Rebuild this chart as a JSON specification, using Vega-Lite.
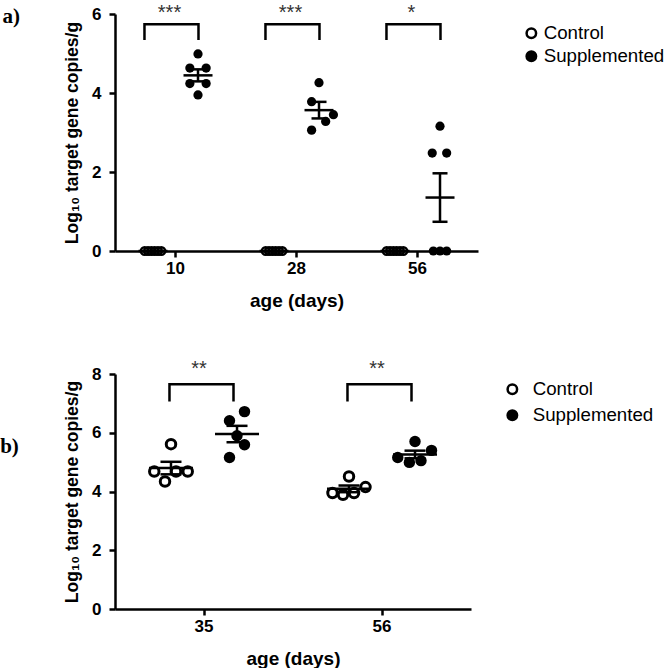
{
  "$schema": "https://vega.github.io/schema/vega-lite/v6.json",
  "padding": {"left": 0, "top": 2, "right": 0, "bottom": 0},
  "config": {
    "font": "Liberation Sans",
    "view": {"stroke": null},
    "concat": {"spacing": 49},
    "axis": {"domainColor": "black", "domainWidth": 2.5, "tickColor": "black", "tickWidth": 2.5, "tickSize": 6, "labelColor": "black", "labelFont": "Liberation Sans", "labelFontWeight": "bold", "labelFontSize": 17, "titleColor": "black", "titleFont": "Liberation Sans", "titleFontWeight": "bold", "grid": false}
  },
  "datasets": {
    "topPts": [
      {"age": "10", "group": "Control", "value": 0, "jitter": -1.125},
      {"age": "10", "group": "Control", "value": 0, "jitter": -0.675},
      {"age": "10", "group": "Control", "value": 0, "jitter": -0.225},
      {"age": "10", "group": "Control", "value": 0, "jitter": 0.225},
      {"age": "10", "group": "Control", "value": 0, "jitter": 0.675},
      {"age": "10", "group": "Control", "value": 0, "jitter": 1.125},
      {"age": "28", "group": "Control", "value": 0, "jitter": -1.125},
      {"age": "28", "group": "Control", "value": 0, "jitter": -0.675},
      {"age": "28", "group": "Control", "value": 0, "jitter": -0.225},
      {"age": "28", "group": "Control", "value": 0, "jitter": 0.225},
      {"age": "28", "group": "Control", "value": 0, "jitter": 0.675},
      {"age": "28", "group": "Control", "value": 0, "jitter": 1.125},
      {"age": "56", "group": "Control", "value": 0, "jitter": -1.125},
      {"age": "56", "group": "Control", "value": 0, "jitter": -0.675},
      {"age": "56", "group": "Control", "value": 0, "jitter": -0.225},
      {"age": "56", "group": "Control", "value": 0, "jitter": 0.225},
      {"age": "56", "group": "Control", "value": 0, "jitter": 0.675},
      {"age": "56", "group": "Control", "value": 0, "jitter": 1.125},
      {"age": "10", "group": "Supplemented", "value": 4.99, "jitter": 0},
      {"age": "10", "group": "Supplemented", "value": 4.63, "jitter": -1.1},
      {"age": "10", "group": "Supplemented", "value": 4.63, "jitter": 1.1},
      {"age": "10", "group": "Supplemented", "value": 4.24, "jitter": -1.1},
      {"age": "10", "group": "Supplemented", "value": 4.24, "jitter": 1.1},
      {"age": "10", "group": "Supplemented", "value": 3.95, "jitter": 0},
      {"age": "28", "group": "Supplemented", "value": 4.26, "jitter": 0},
      {"age": "28", "group": "Supplemented", "value": 3.78, "jitter": -1},
      {"age": "28", "group": "Supplemented", "value": 3.45, "jitter": 1.95},
      {"age": "28", "group": "Supplemented", "value": 3.28, "jitter": 0.9},
      {"age": "28", "group": "Supplemented", "value": 3.06, "jitter": -1},
      {"age": "56", "group": "Supplemented", "value": 3.16, "jitter": 0},
      {"age": "56", "group": "Supplemented", "value": 2.48, "jitter": -1.05},
      {"age": "56", "group": "Supplemented", "value": 2.48, "jitter": 0.9},
      {"age": "56", "group": "Supplemented", "value": 0, "jitter": -0.9},
      {"age": "56", "group": "Supplemented", "value": 0, "jitter": 0},
      {"age": "56", "group": "Supplemented", "value": 0, "jitter": 0.9}
    ],
    "topBr": [
      {"age": "10", "group": "Control", "value": 5.34, "ord": 1},
      {"age": "10", "group": "Control", "value": 5.74, "ord": 2},
      {"age": "10", "group": "Supplemented", "value": 5.74, "ord": 3},
      {"age": "10", "group": "Supplemented", "value": 5.34, "ord": 4},
      {"age": "28", "group": "Control", "value": 5.34, "ord": 1},
      {"age": "28", "group": "Control", "value": 5.74, "ord": 2},
      {"age": "28", "group": "Supplemented", "value": 5.74, "ord": 3},
      {"age": "28", "group": "Supplemented", "value": 5.34, "ord": 4},
      {"age": "56", "group": "Control", "value": 5.34, "ord": 1},
      {"age": "56", "group": "Control", "value": 5.74, "ord": 2},
      {"age": "56", "group": "Supplemented", "value": 5.74, "ord": 3},
      {"age": "56", "group": "Supplemented", "value": 5.34, "ord": 4}
    ],
    "topStars": [
      {"age": "10", "label": "***", "value": 6.03},
      {"age": "28", "label": "***", "value": 6.03},
      {"age": "56", "label": "*", "value": 6.03}
    ],
    "botPts": [
      {"age": "35", "group": "Control", "value": 5.61, "jitter": 0},
      {"age": "35", "group": "Control", "value": 4.68, "jitter": -2.23},
      {"age": "35", "group": "Control", "value": 4.34, "jitter": -0.8},
      {"age": "35", "group": "Control", "value": 4.68, "jitter": 0.67},
      {"age": "35", "group": "Control", "value": 4.68, "jitter": 2.23},
      {"age": "56", "group": "Control", "value": 4.51, "jitter": 0},
      {"age": "56", "group": "Control", "value": 3.95, "jitter": -2.2},
      {"age": "56", "group": "Control", "value": 3.89, "jitter": -0.8},
      {"age": "56", "group": "Control", "value": 3.95, "jitter": 0.67},
      {"age": "56", "group": "Control", "value": 4.15, "jitter": 2.2},
      {"age": "35", "group": "Supplemented", "value": 6.41, "jitter": -1},
      {"age": "35", "group": "Supplemented", "value": 6.72, "jitter": 1},
      {"age": "35", "group": "Supplemented", "value": 5.9, "jitter": 0},
      {"age": "35", "group": "Supplemented", "value": 5.59, "jitter": 1},
      {"age": "35", "group": "Supplemented", "value": 5.16, "jitter": -1},
      {"age": "56", "group": "Supplemented", "value": 5.7, "jitter": 0},
      {"age": "56", "group": "Supplemented", "value": 5.4, "jitter": 2.2},
      {"age": "56", "group": "Supplemented", "value": 5.16, "jitter": -2.3},
      {"age": "56", "group": "Supplemented", "value": 4.99, "jitter": -0.75},
      {"age": "56", "group": "Supplemented", "value": 5.05, "jitter": 0.8}
    ],
    "botBr": [
      {"age": "35", "group": "Control", "value": 7.06, "ord": 1},
      {"age": "35", "group": "Control", "value": 7.65, "ord": 2},
      {"age": "35", "group": "Supplemented", "value": 7.65, "ord": 3},
      {"age": "35", "group": "Supplemented", "value": 7.06, "ord": 4},
      {"age": "56", "group": "Control", "value": 7.06, "ord": 1},
      {"age": "56", "group": "Control", "value": 7.65, "ord": 2},
      {"age": "56", "group": "Supplemented", "value": 7.65, "ord": 3},
      {"age": "56", "group": "Supplemented", "value": 7.06, "ord": 4}
    ],
    "botStars": [
      {"age": "35", "label": "**", "value": 8.17},
      {"age": "56", "label": "**", "value": 8.17}
    ]
  },
  "vconcat": [
    {
      "width": 363,
      "height": 237,
      "title": {"text": "a)", "orient": "left", "anchor": "end", "angle": 0, "align": "right", "baseline": "top", "font": "Liberation Serif", "fontWeight": "bold", "fontSize": 21, "offset": 26, "dy": 3, "color": "black"},
      "data": {"name": "topPts"},
      "encoding": {
        "x": {"field": "age", "type": "nominal", "scale": {"domain": ["10", "28", "56"], "paddingInner": 0, "paddingOuter": 0}, "axis": {"title": "age (days)", "labelAngle": 0, "labelPadding": 3, "titleFontSize": 19, "titlePadding": 15}}
      },
      "layer": [
        {
          "transform": [{"filter": "datum.group === 'Control'"}],
          "mark": {"type": "point", "shape": "circle", "filled": true, "size": 60, "stroke": "black", "strokeWidth": 2.5, "opacity": 1, "clip": false},
          "encoding": {
            "y": {"field": "value", "type": "quantitative", "scale": {"domain": [0, 6], "nice": false}, "axis": {"values": [0, 2, 4, 6], "labelPadding": 8, "titleFontSize": 17.5, "titlePadding": 10}, "title": "Log₁₀ target gene copies/g"},
            "xOffset": {"field": "jitter", "type": "quantitative", "scale": {"domain": [-5.135, 11.216], "nice": false, "zero": false}},
            "fill": {"field": "group", "type": "nominal", "scale": {"domain": ["Control", "Supplemented"], "range": ["transparent", "black"]}, "legend": {"title": null, "orient": "right", "offset": 34, "padding": 10, "labelFontSize": 18.7, "labelColor": "black", "symbolSize": 90, "symbolStrokeColor": "black", "symbolStrokeWidth": 2.5, "symbolType": "circle", "labelOffset": 3, "rowPadding": 2}}
          }
        },
        {
          "transform": [{"filter": "datum.group === 'Supplemented'"}],
          "mark": {"type": "point", "shape": "circle", "filled": true, "size": 85, "strokeWidth": 0, "opacity": 1, "clip": false},
          "encoding": {
            "y": {"field": "value", "type": "quantitative", "scale": {"domain": [0, 6], "nice": false}, "title": "Log₁₀ target gene copies/g"},
            "xOffset": {"field": "jitter", "type": "quantitative", "scale": {"domain": [-11.216, 5.135], "nice": false, "zero": false}},
            "fill": {"field": "group", "type": "nominal", "scale": {"domain": ["Control", "Supplemented"], "range": ["transparent", "black"]}, "legend": {"title": null, "orient": "right", "offset": 34, "padding": 10, "labelFontSize": 18.7, "labelColor": "black", "symbolSize": 90, "symbolStrokeColor": "black", "symbolStrokeWidth": 2.5, "symbolType": "circle", "labelOffset": 3, "rowPadding": 2}}
          }
        },
        {
          "transform": [
            {"aggregate": [{"op": "mean", "field": "value", "as": "mean"}, {"op": "stderr", "field": "value", "as": "se"}], "groupby": ["age", "group"]},
            {"calculate": "datum.mean - datum.se", "as": "lo"},
            {"calculate": "datum.mean + datum.se", "as": "hi"}
          ],
          "encoding": {
            "xOffset": {"field": "group", "type": "nominal", "scale": {"domain": ["Control", "Supplemented"], "paddingInner": 0, "paddingOuter": 0.344}}
          },
          "layer": [
            {"mark": {"type": "rule", "strokeWidth": 2.5, "color": "black"}, "encoding": {"y": {"field": "lo", "type": "quantitative", "scale": {"domain": [0, 6], "nice": false}, "title": "Log₁₀ target gene copies/g"}, "y2": {"field": "hi"}}},
            {"mark": {"type": "tick", "size": 29, "thickness": 2.5, "color": "black", "opacity": 1}, "encoding": {"y": {"field": "mean", "type": "quantitative", "scale": {"domain": [0, 6], "nice": false}, "title": "Log₁₀ target gene copies/g"}}},
            {"mark": {"type": "tick", "size": 15, "thickness": 2.5, "color": "black", "opacity": 1}, "encoding": {"y": {"field": "lo", "type": "quantitative", "scale": {"domain": [0, 6], "nice": false}, "title": "Log₁₀ target gene copies/g"}}},
            {"mark": {"type": "tick", "size": 15, "thickness": 2.5, "color": "black", "opacity": 1}, "encoding": {"y": {"field": "hi", "type": "quantitative", "scale": {"domain": [0, 6], "nice": false}, "title": "Log₁₀ target gene copies/g"}}}
          ]
        },
        {
          "data": {"name": "topBr"},
          "mark": {"type": "line", "color": "black", "strokeWidth": 2.5, "clip": false},
          "encoding": {
            "xOffset": {"field": "group", "type": "nominal", "scale": {"type": "point", "domain": ["Control", "Supplemented"], "padding": 0.62, "align": 0.44}},
            "y": {"field": "value", "type": "quantitative", "scale": {"domain": [0, 6], "nice": false}, "title": "Log₁₀ target gene copies/g"},
            "detail": {"field": "age"},
            "order": {"field": "ord", "type": "quantitative"}
          }
        },
        {
          "data": {"name": "topStars"},
          "mark": {"type": "text", "fontSize": 20, "color": "#333333", "baseline": "middle", "dx": -6},
          "encoding": {
            "y": {"field": "value", "type": "quantitative", "scale": {"domain": [0, 6], "nice": false}, "title": "Log₁₀ target gene copies/g"},
            "text": {"field": "label"}
          }
        }
      ],
      "resolve": {"scale": {"xOffset": "independent"}}
    },
    {
      "width": 356,
      "height": 235,
      "title": {"text": "b)", "orient": "left", "anchor": "end", "angle": 0, "align": "right", "baseline": "top", "font": "Liberation Serif", "fontWeight": "bold", "fontSize": 21, "offset": 26, "dy": 77, "color": "black"},
      "data": {"name": "botPts"},
      "encoding": {
        "x": {"field": "age", "type": "nominal", "scale": {"domain": ["35", "56"], "paddingInner": 0, "paddingOuter": 0}, "axis": {"title": "age (days)", "labelAngle": 0, "labelPadding": 3, "titleFontSize": 19, "titlePadding": 15}}
      },
      "layer": [
        {
          "transform": [{"filter": "datum.group === 'Control'"}],
          "mark": {"type": "point", "shape": "circle", "filled": true, "size": 90, "stroke": "black", "strokeWidth": 3, "opacity": 1, "clip": false},
          "encoding": {
            "y": {"field": "value", "type": "quantitative", "scale": {"domain": [0, 8], "nice": false}, "axis": {"values": [0, 2, 4, 6, 8], "labelPadding": 8, "titleFontSize": 17.5, "titlePadding": 10}, "title": "Log₁₀ target gene copies/g"},
            "xOffset": {"field": "jitter", "type": "quantitative", "scale": {"domain": [-7.467, 16.267], "nice": false, "zero": false}},
            "fill": {"field": "group", "type": "nominal", "scale": {"domain": ["Control", "Supplemented"], "range": ["transparent", "black"]}, "legend": {"title": null, "orient": "right", "offset": 26, "padding": 6, "labelFontSize": 18.7, "labelColor": "black", "symbolSize": 90, "symbolStrokeColor": "black", "symbolStrokeWidth": 2.5, "symbolType": "circle", "labelOffset": 11, "rowPadding": 5}}
          }
        },
        {
          "transform": [{"filter": "datum.group === 'Supplemented'"}],
          "mark": {"type": "point", "shape": "circle", "filled": true, "size": 130, "strokeWidth": 0, "opacity": 1, "clip": false},
          "encoding": {
            "y": {"field": "value", "type": "quantitative", "scale": {"domain": [0, 8], "nice": false}, "title": "Log₁₀ target gene copies/g"},
            "xOffset": {"field": "jitter", "type": "quantitative", "scale": {"domain": [-16.267, 7.467], "nice": false, "zero": false}},
            "fill": {"field": "group", "type": "nominal", "scale": {"domain": ["Control", "Supplemented"], "range": ["transparent", "black"]}, "legend": {"title": null, "orient": "right", "offset": 26, "padding": 6, "labelFontSize": 18.7, "labelColor": "black", "symbolSize": 90, "symbolStrokeColor": "black", "symbolStrokeWidth": 2.5, "symbolType": "circle", "labelOffset": 11, "rowPadding": 5}}
          }
        },
        {
          "transform": [
            {"aggregate": [{"op": "mean", "field": "value", "as": "mean"}, {"op": "stderr", "field": "value", "as": "se"}], "groupby": ["age", "group"]},
            {"calculate": "datum.mean - datum.se", "as": "lo"},
            {"calculate": "datum.mean + datum.se", "as": "hi"}
          ],
          "encoding": {
            "xOffset": {"field": "group", "type": "nominal", "scale": {"domain": ["Control", "Supplemented"], "paddingInner": 0, "paddingOuter": 0.348}}
          },
          "layer": [
            {"mark": {"type": "rule", "strokeWidth": 2.5, "color": "black"}, "encoding": {"y": {"field": "lo", "type": "quantitative", "scale": {"domain": [0, 8], "nice": false}, "title": "Log₁₀ target gene copies/g"}, "y2": {"field": "hi"}}},
            {"mark": {"type": "tick", "size": 44, "thickness": 2.5, "color": "black", "opacity": 1}, "encoding": {"y": {"field": "mean", "type": "quantitative", "scale": {"domain": [0, 8], "nice": false}, "title": "Log₁₀ target gene copies/g"}}},
            {"mark": {"type": "tick", "size": 21, "thickness": 2.5, "color": "black", "opacity": 1}, "encoding": {"y": {"field": "lo", "type": "quantitative", "scale": {"domain": [0, 8], "nice": false}, "title": "Log₁₀ target gene copies/g"}}},
            {"mark": {"type": "tick", "size": 21, "thickness": 2.5, "color": "black", "opacity": 1}, "encoding": {"y": {"field": "hi", "type": "quantitative", "scale": {"domain": [0, 8], "nice": false}, "title": "Log₁₀ target gene copies/g"}}}
          ]
        },
        {
          "data": {"name": "botBr"},
          "mark": {"type": "line", "color": "black", "strokeWidth": 2.5, "clip": false},
          "encoding": {
            "xOffset": {"field": "group", "type": "nominal", "scale": {"type": "point", "domain": ["Control", "Supplemented"], "padding": 0.89, "align": 0.478}},
            "y": {"field": "value", "type": "quantitative", "scale": {"domain": [0, 8], "nice": false}, "title": "Log₁₀ target gene copies/g"},
            "detail": {"field": "age"},
            "order": {"field": "ord", "type": "quantitative"}
          }
        },
        {
          "data": {"name": "botStars"},
          "mark": {"type": "text", "fontSize": 20, "color": "#333333", "baseline": "middle", "dx": -5},
          "encoding": {
            "y": {"field": "value", "type": "quantitative", "scale": {"domain": [0, 8], "nice": false}, "title": "Log₁₀ target gene copies/g"},
            "text": {"field": "label"}
          }
        }
      ],
      "resolve": {"scale": {"xOffset": "independent"}}
    }
  ],
  "resolve": {"scale": {"x": "independent", "y": "independent", "fill": "independent", "xOffset": "independent"}, "legend": {"fill": "independent"}}
}
